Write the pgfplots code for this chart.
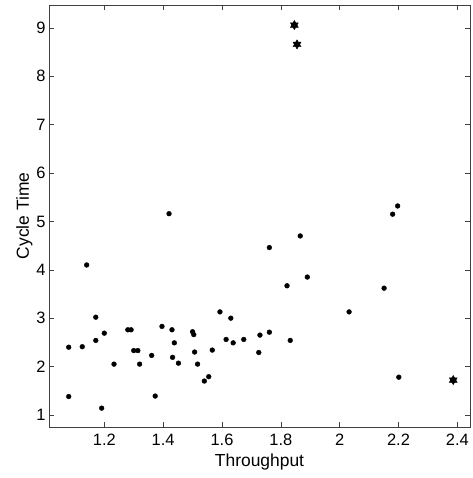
\documentclass[border=0pt]{standalone}
\usepackage{fontspec}
\setmainfont{Liberation Sans}
\usepackage{pgfplots}
\pgfplotsset{compat=1.18}
\pgfdeclareplotmark{hexstar}{%
  \pgfpathmoveto{\pgfpointpolar{90}{\pgfplotmarksize}}%
  \pgfpathlineto{\pgfpointpolar{210}{\pgfplotmarksize}}%
  \pgfpathlineto{\pgfpointpolar{330}{\pgfplotmarksize}}%
  \pgfpathclose
  \pgfpathmoveto{\pgfpointpolar{30}{\pgfplotmarksize}}%
  \pgfpathlineto{\pgfpointpolar{150}{\pgfplotmarksize}}%
  \pgfpathlineto{\pgfpointpolar{270}{\pgfplotmarksize}}%
  \pgfpathclose
  \pgfusepathqfillstroke
}
\begin{document}
\begin{tikzpicture}
\begin{axis}[
  scale only axis,
  width=421bp, height=422bp,
  xmin=1.012, xmax=2.443,
  ymin=0.75, ymax=9.475,
  xtick={1.2,1.4,1.6,1.8,2,2.2,2.4},
  xticklabels={1.2,1.4,1.6,1.8,2,2.2,2.4},
  ytick={1,2,3,4,5,6,7,8,9},
  tick align=inside,
  major tick length=5bp,
  axis line style={draw=black!75, line width=0.8bp},
  every tick/.style={black!75, line width=0.6bp},
  tick label style={font=\fontsize{16.5}{19}\selectfont},
  label style={font=\fontsize{17.5}{20}\selectfont},
  /pgf/number format/assume math mode=true,
  xlabel={Throughput},
  ylabel={Cycle Time},
  xlabel style={yshift=-1bp},
  ylabel style={yshift=-3bp},
  xticklabel style={yshift=-4bp},
]
\addplot[only marks, mark=*, mark size=2.4bp, black] coordinates {
(1.140,4.10) (1.420,5.16) (1.761,4.46) (1.866,4.70) (1.821,3.67)
(1.890,3.85) (2.151,3.62) (2.180,5.15) (2.197,5.32)
(1.079,2.40) (1.079,1.38) (1.125,2.41) (1.171,3.02) (1.171,2.54)
(1.191,1.14) (1.200,2.69) (1.233,2.05) (1.280,2.76) (1.291,2.76)
(1.300,2.33) (1.314,2.33) (1.320,2.05) (1.361,2.23) (1.373,1.39)
(1.396,2.83) (1.430,2.76) (1.432,2.19) (1.438,2.49) (1.452,2.07)
(1.500,2.72) (1.504,2.66) (1.507,2.30) (1.517,2.05) (1.540,1.70)
(1.555,1.79) (1.567,2.34) (1.593,3.13) (1.614,2.56) (1.630,3.00)
(1.638,2.49) (1.674,2.56) (1.725,2.29) (1.729,2.65) (1.761,2.71)
(1.832,2.54) (2.032,3.13) (2.201,1.78)
};
\addplot[only marks, mark=hexstar, mark size=4.6bp, black] coordinates {
(1.846,9.06) (1.855,8.66) (2.386,1.72)
};
\end{axis}
\path (current axis.south west) ++(-49bp,-51bp) (current axis.north east) ++(2bp,5bp);
\end{tikzpicture}
\end{document}
